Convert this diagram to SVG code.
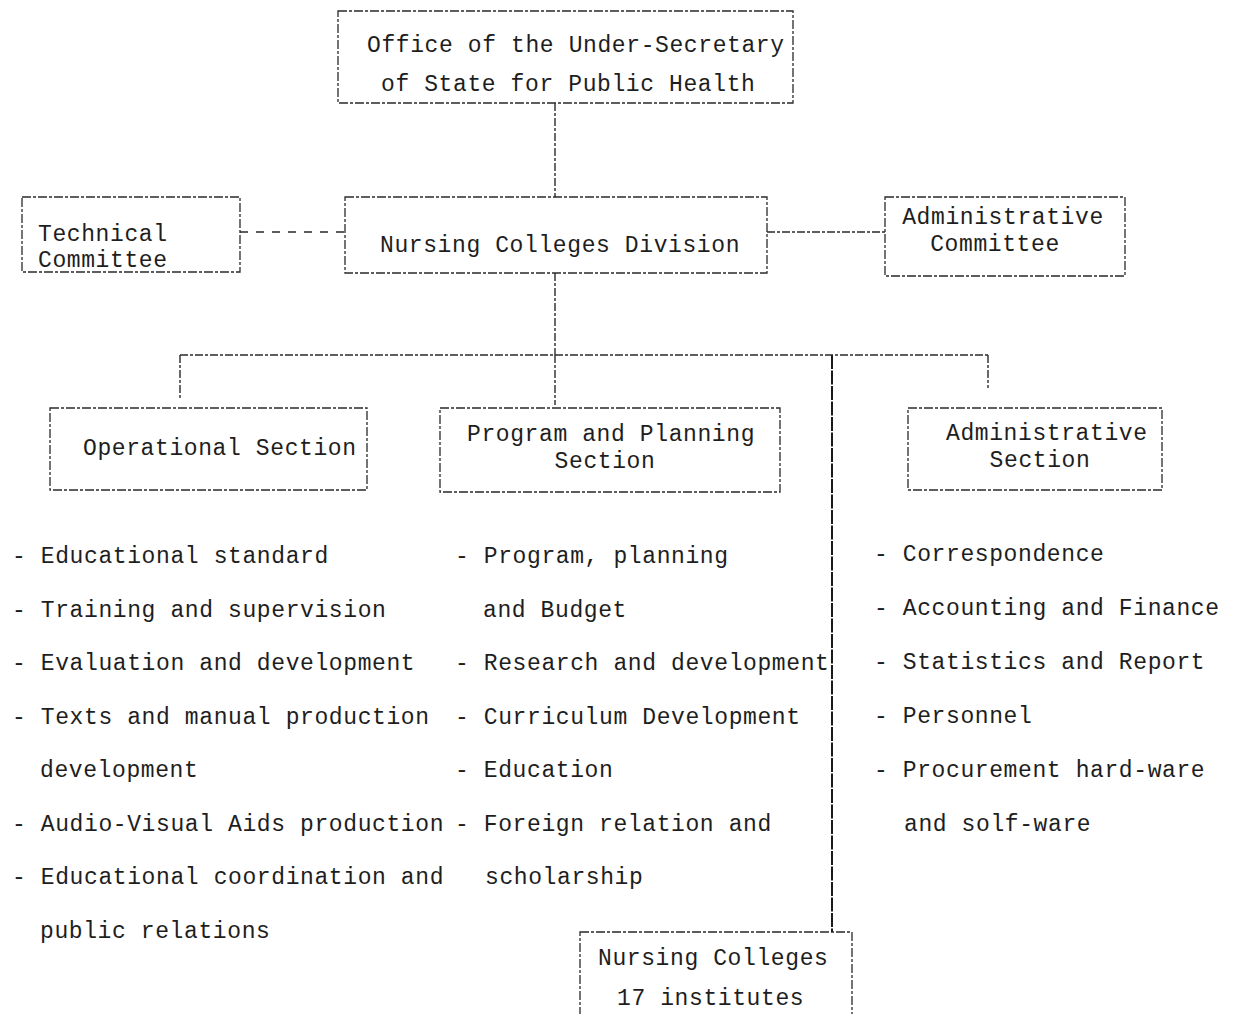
<svg xmlns="http://www.w3.org/2000/svg" width="1234" height="1014" viewBox="0 0 1234 1014">
<style>
.bg{fill:#ffffff}
.box{fill:none;stroke:#2a2a2a;stroke-width:1.3;stroke-dasharray:9 2 3 2}
.ln{fill:none;stroke:#2a2a2a;stroke-width:1.4;stroke-dasharray:8 2 3 2}
.ln2{fill:none;stroke:#2a2a2a;stroke-width:1.3;stroke-dasharray:8 8}
.solid{fill:none;stroke:#1a1a1a;stroke-width:2;stroke-dasharray:14 1.5}
text{font-family:"Liberation Mono","DejaVu Sans Mono",monospace;font-size:23px;letter-spacing:0.6px;fill:#1e1e1e}
.c{text-anchor:middle}
</style>
<rect class="bg" x="0" y="0" width="1234" height="1014"/>
<g id="connectors">
<path class="ln" d="M555,103 V197"/>
<path class="ln2" d="M240,232 H345"/>
<path class="ln" d="M767,232 H885"/>
<path class="ln" d="M555,273 V355"/>
<path class="ln" d="M180,355 H988"/>
<path class="ln" d="M180,355 V400"/>
<path class="ln" d="M555,355 V405"/>
<path class="ln" d="M988,355 V388"/>
<path class="solid" d="M832,355 V932"/>
</g>
<g id="office">
<rect class="box" x="338" y="11" width="455" height="92"/>
<text x="367" y="52">Office of the Under-Secretary</text>
<text x="381" y="91">of State for Public Health</text>
</g>
<g id="technical-committee">
<rect class="box" x="22" y="197" width="218" height="75"/>
<text x="38" y="241">Technical</text>
<text x="38" y="267">Committee</text>
</g>
<g id="nursing-division">
<rect class="box" x="345" y="197" width="422" height="76"/>
<text x="380" y="252">Nursing Colleges Division</text>
</g>
<g id="administrative-committee">
<rect class="box" x="885" y="197" width="240" height="79"/>
<text class="c" x="1003" y="224">Administrative</text>
<text class="c" x="995" y="251">Committee</text>
</g>
<g id="operational-section">
<rect class="box" x="50" y="408" width="317" height="82"/>
<text x="83" y="455">Operational Section</text>
</g>
<g id="program-planning-section">
<rect class="box" x="440" y="408" width="340" height="84"/>
<text x="467" y="441">Program and Planning</text>
<text class="c" x="605" y="468">Section</text>
</g>
<g id="administrative-section">
<rect class="box" x="908" y="408" width="254" height="82"/>
<text x="946" y="440">Administrative</text>
<text class="c" x="1040" y="467">Section</text>
</g>
<g id="nursing-colleges">
<rect class="box" x="580" y="932" width="272" height="90"/>
<text x="598" y="965">Nursing Colleges</text>
<text x="617" y="1005">17 institutes</text>
</g>
<g id="operational-list">
<text x="12" y="563">- Educational standard</text>
<text x="12" y="617">- Training and supervision</text>
<text x="12" y="670">- Evaluation and development</text>
<text x="12" y="724">- Texts and manual production</text>
<text x="40" y="777">development</text>
<text x="12" y="831">- Audio-Visual Aids production</text>
<text x="12" y="884">- Educational coordination and</text>
<text x="40" y="938">public relations</text>
</g>
<g id="program-list">
<text x="455" y="563">- Program, planning</text>
<text x="483" y="617">and Budget</text>
<text x="455" y="670">- Research and development</text>
<text x="455" y="724">- Curriculum Development</text>
<text x="455" y="777">- Education</text>
<text x="455" y="831">- Foreign relation and</text>
<text x="485" y="884">scholarship</text>
</g>
<g id="administrative-list">
<text x="874" y="561">- Correspondence</text>
<text x="874" y="615">- Accounting and Finance</text>
<text x="874" y="669">- Statistics and Report</text>
<text x="874" y="723">- Personnel</text>
<text x="874" y="777">- Procurement hard-ware</text>
<text x="904" y="831">and solf-ware</text>
</g>
</svg>
